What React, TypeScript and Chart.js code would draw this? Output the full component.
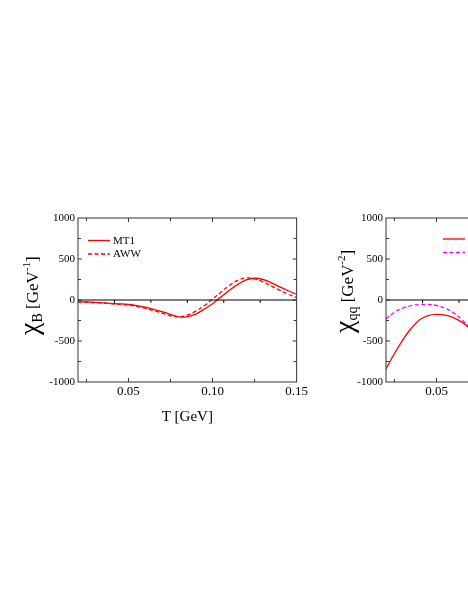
import React, { useEffect, useRef } from "react";
import { Chart, registerables } from "chart.js";

Chart.register(...registerables);

// ---- data ----
const temps = [
  0.02, 0.025, 0.03, 0.035, 0.04, 0.045, 0.05, 0.055, 0.06, 0.065, 0.07, 0.075, 0.08, 0.085,
  0.09, 0.095, 0.1, 0.105, 0.11, 0.115, 0.12, 0.125, 0.13, 0.135, 0.14, 0.145, 0.15,
];
const chiB_MT1 = [
  -20, -24, -29, -35, -41, -47, -55, -68, -88, -113, -142, -175, -207, -203,
  -172, -113, -45, 35, 118, 190, 245, 265, 250, 210, 160, 113, 70,
];
const chiB_AWW = [
  -25, -28, -33, -39, -46, -54, -63, -80, -102, -130, -160, -192, -205, -185,
  -135, -70, 12, 95, 175, 240, 268, 258, 220, 170, 118, 70, 30,
];
const chiQQ_MT1 = [
  -841, -652, -485, -345, -240, -190, -175, -185, -215, -270, -350, -420, -480, -525,
  -550, -545, -510, -450, -370, -285, -195, -115, -50, -5, 20, 30, 30,
];
const chiQQ_AWW = [
  -232, -150, -98, -68, -55, -54, -67, -100, -155, -240, -335, -420, -485, -530,
  -555, -555, -525, -465, -385, -300, -210, -130, -70, -25, 0, 10, 10,
];
const seriesNames = ["MT1", "AWW"];
const xTickValues = [0.05, 0.1, 0.15];
const yTickValues = [-1000, -500, 0, 500, 1000];
const xInnerTicks = [0.025, 0.05, 0.075, 0.1, 0.125];
const yInnerTicks = [-750, -500, -250, 0, 250, 500, 750];
const xTitle = "T [GeV]";
const leftTitle = [
  { t: "\u03c7", size: 28, dy: 0 },
  { t: "B", size: 14, dy: 4 },
  { t: " [GeV", size: 17, dy: 0 },
  { t: "-1", size: 11, dy: -8 },
  { t: "]", size: 17, dy: 0 },
];
const rightTitle = [
  { t: "\u03c7", size: 28, dy: 0 },
  { t: "qq", size: 14, dy: 4 },
  { t: " [GeV", size: 17, dy: 0 },
  { t: "-2", size: 11, dy: -8 },
  { t: "]", size: 17, dy: 0 },
];

const FONT = "'Liberation Serif', 'Times New Roman', serif";

type Piece = { t: string; size: number; dy: number };

const decorPlugin = {
  id: "decor",
  afterDraw(chart: any, _args: any, opts: any) {
    const { ctx, chartArea: a, scales } = chart;
    const xs = scales.x;
    const ys = scales.y;
    ctx.save();
    // zero line with its small ticks
    const y0 = ys.getPixelForValue(0);
    ctx.strokeStyle = "#000";
    ctx.lineWidth = 1;
    ctx.beginPath();
    ctx.moveTo(a.left, y0);
    ctx.lineTo(a.right, y0);
    for (let i = 1; i < 6; i++) {
      const px = a.left + ((a.right - a.left) * i) / 6;
      ctx.moveTo(px, y0);
      ctx.lineTo(px, y0 + 3);
    }
    ctx.stroke();
    // frame
    ctx.strokeStyle = "#333";
    ctx.strokeRect(a.left, a.top, a.right - a.left, a.bottom - a.top);
    // inner ticks
    ctx.beginPath();
    xInnerTicks.forEach((v) => {
      const px = xs.getPixelForValue(v);
      const len = xTickValues.some((m) => Math.abs(m - v) < 1e-9) ? 4 : 3;
      ctx.moveTo(px, a.bottom);
      ctx.lineTo(px, a.bottom - len);
      ctx.moveTo(px, a.top);
      ctx.lineTo(px, a.top + len);
    });
    yInnerTicks.forEach((v) => {
      const py = ys.getPixelForValue(v);
      const len = yTickValues.includes(v) ? 4 : 3;
      ctx.moveTo(a.left, py);
      ctx.lineTo(a.left + len, py);
      ctx.moveTo(a.right, py);
      ctx.lineTo(a.right - len, py);
    });
    ctx.stroke();

    // legend
    const ds = chart.data.datasets;
    ds.forEach((d: any, i: number) => {
      const ly = a.top + opts.legendTop + i * 13.5;
      const lx = a.left + opts.legendLeft;
      ctx.strokeStyle = d.borderColor;
      ctx.lineWidth = 1.3;
      ctx.setLineDash(d.borderDash || []);
      ctx.beginPath();
      ctx.moveTo(lx, ly);
      ctx.lineTo(lx + 22, ly);
      ctx.stroke();
      ctx.setLineDash([]);
      ctx.fillStyle = "#000";
      ctx.font = `11px ${FONT}`;
      ctx.textBaseline = "middle";
      ctx.textAlign = "left";
      ctx.fillText(d.label, lx + 25, ly + 0.5);
    });

    // x title
    ctx.fillStyle = "#000";
    ctx.font = `15px ${FONT}`;
    ctx.textAlign = "center";
    ctx.textBaseline = "middle";
    ctx.fillText(xTitle, (a.left + a.right) / 2, a.bottom + 35);

    // y title (rotated, with sub/superscripts)
    const pieces: Piece[] = opts.yTitle;
    ctx.translate(a.left - opts.titleOffset, a.bottom - opts.titleStart);
    ctx.rotate(-Math.PI / 2);
    ctx.textAlign = "left";
    ctx.textBaseline = "alphabetic";
    let cx = 0;
    pieces.forEach((p) => {
      ctx.font = `${p.size}px ${FONT}`;
      ctx.fillText(p.t, cx, p.dy);
      cx += ctx.measureText(p.t).width;
    });
    ctx.restore();
  },
};

function makeConfig(
  s1: number[],
  s2: number[],
  color2: string,
  yAxisWidth: number,
  rightPad: number,
  decor: any
): any {
  return {
    type: "line",
    data: {
      datasets: [
        {
          label: seriesNames[0],
          data: temps.map((t, i) => ({ x: t, y: s1[i] })),
          borderColor: "#ff0000",
          borderWidth: 1.3,
          pointRadius: 0,
          tension: 0.4,
          fill: false,
        },
        {
          label: seriesNames[1],
          data: temps.map((t, i) => ({ x: t, y: s2[i] })),
          borderColor: color2,
          borderWidth: 1.3,
          borderDash: [4, 2.5],
          pointRadius: 0,
          tension: 0.4,
          fill: false,
        },
      ],
    },
    options: {
      responsive: false,
      animation: false,
      events: [],
      layout: { padding: { top: 18, right: rightPad, left: 0, bottom: 0 } },
      plugins: {
        legend: { display: false },
        tooltip: { enabled: false },
        decor,
      },
      scales: {
        x: {
          type: "linear",
          min: 0.02,
          max: 0.15,
          grid: { display: false, drawTicks: false },
          border: { display: false },
          afterBuildTicks: (sc: any) => {
            sc.ticks = xTickValues.map((v) => ({ value: v }));
          },
          afterFit: (sc: any) => {
            sc.height = 58;
          },
          ticks: {
            padding: 2,
            maxRotation: 0,
            autoSkip: false,
            color: "#000",
            font: { family: FONT, size: 13 },
            callback: (v: any) => Number(v).toFixed(2),
          },
        },
        y: {
          type: "linear",
          min: -1000,
          max: 1000,
          grid: { display: false, drawTicks: false },
          border: { display: false },
          afterBuildTicks: (sc: any) => {
            sc.ticks = yTickValues.map((v) => ({ value: v }));
          },
          afterFit: (sc: any) => {
            sc.width = yAxisWidth;
          },
          ticks: {
            padding: 3,
            color: "#000",
            font: { family: FONT, size: 11 },
            callback: (v: any) => String(v),
          },
        },
      },
    },
    plugins: [decorPlugin],
  };
}

function Panel(props: { cfg: any; left: number; width: number }) {
  const ref = useRef<HTMLCanvasElement | null>(null);
  useEffect(() => {
    if (!ref.current) return;
    const ch = new Chart(ref.current, props.cfg);
    return () => ch.destroy();
  }, []);
  return (
    <canvas
      ref={ref}
      width={props.width}
      height={240}
      style={{ position: "absolute", left: props.left, top: 200 }}
    />
  );
}

export default function App() {
  const cfgLeft = makeConfig(chiB_MT1, chiB_AWW, "#ff0000", 78, 13, {
    legendTop: 22.5,
    legendLeft: 10,
    titleOffset: 40,
    titleStart: 47,
    yTitle: leftTitle,
  });
  const cfgRight = makeConfig(chiQQ_MT1, chiQQ_AWW, "#ff00ff", 76, 25, {
    legendTop: 21,
    legendLeft: 57,
    titleOffset: 33,
    titleStart: 49,
    yTitle: rightTitle,
  });
  return (
    <div
      style={{
        position: "fixed",
        left: 0,
        top: 0,
        width: 468,
        height: 605,
        overflow: "hidden",
        background: "#fff",
      }}
    >
      <Panel cfg={cfgLeft} left={0} width={310} />
      <Panel cfg={cfgRight} left={310} width={320} />
    </div>
  );
}
